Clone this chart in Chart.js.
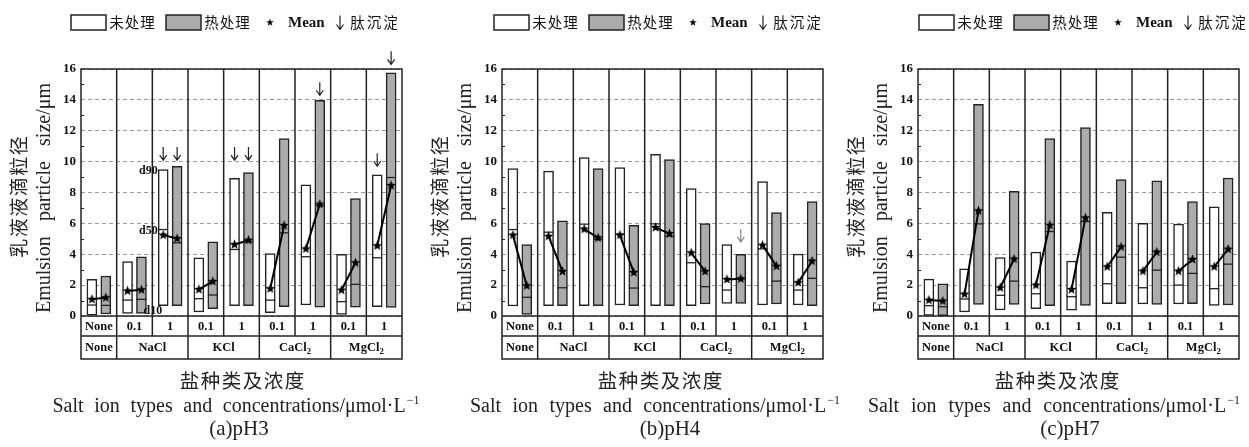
<!DOCTYPE html>
<html>
<head>
<meta charset="utf-8">
<script src="https://cdn.jsdelivr.net/npm/chart.js@4.4.1/dist/chart.umd.min.js"></script>
<style>
  html, body { margin: 0; padding: 0; background: #fff; width: 1249px; height: 447px; overflow: hidden; }
  .panel { position: absolute; top: 0; width: 420px; height: 447px; }
</style>
</head>
<body>
<div class="panel" style="left:0px"><canvas id="pH3" width="420" height="447"></canvas></div>
<div class="panel" style="left:421px"><canvas id="pH4" width="420" height="447"></canvas></div>
<div class="panel" style="left:837px"><canvas id="pH7" width="420" height="447"></canvas></div>
<script>
// ---- categories ----
const concentrations = ['None', '0.1', '1', '0.1', '1', '0.1', '1', '0.1', '1'];
const salts = ['None', 'NaCl', 'KCl', 'CaCl2', 'MgCl2'];
const saltSpans = [1, 2, 2, 2, 2];
const captions = ['(a)pH3', '(b)pH4', '(c)pH7'];

// ---- pH 3 (µm): d10 / d50 / d90 / mean, untreated and heat-treated ----
const pH3RawD10  = [0.06, 0.17, 0.67, 0.26, 0.67, 0.22, 0.71, 0.11, 0.60];
const pH3RawD50  = [0.71, 1.03, 5.60, 1.12, 4.31, 1.03, 3.84, 0.93, 3.77];
const pH3RawD90  = [2.37, 3.53, 9.48, 3.77, 8.92, 4.05, 8.49, 3.99, 9.14];
const pH3RawMean = [1.08, 1.62, 5.24, 1.72, 4.63, 1.77, 4.35, 1.68, 4.55];
const pH3HeatD10  = [0.13, 0.17, 0.67, 0.47, 0.67, 0.60, 0.58, 0.58, 0.56];
const pH3HeatD50  = [0.69, 1.08, 4.74, 1.36, 4.81, 5.39, 7.15, 2.05, 8.97];
const pH3HeatD90  = [2.59, 3.84, 9.70, 4.81, 9.29, 11.49, 13.97, 7.61, 15.75];
const pH3HeatMean = [1.19, 1.70, 5.02, 2.24, 4.91, 5.86, 7.24, 3.45, 8.45];
// peptide precipitation markers (arrow tip level, µm)
const pH3RawPrecip  = [null, null, 10.1, null, 10.1, null, null, null, 9.7];
const pH3HeatPrecip = [null, null, 10.1, null, 10.1, null, 14.3, null, 16.3];

// ---- pH 4 ----
const pH4RawD10  = [0.65, 0.67, 0.67, 0.71, 0.67, 0.67, 0.82, 0.71, 0.71];
const pH4RawD50  = [5.60, 5.43, 5.95, 5.30, 5.97, 3.45, 1.68, 4.35, 1.68];
const pH4RawD90  = [9.55, 9.38, 10.26, 9.61, 10.47, 8.25, 4.63, 8.71, 4.01];
const pH4RawMean = [5.24, 5.17, 5.63, 5.24, 5.73, 4.09, 2.37, 4.59, 2.16];
const pH4HeatD10  = [0.11, 0.67, 0.67, 0.67, 0.67, 0.78, 0.82, 0.78, 0.67];
const pH4HeatD50  = [1.21, 1.83, 4.96, 1.81, 5.17, 1.90, 2.40, 2.26, 2.44];
const pH4HeatD90  = [4.63, 6.16, 9.55, 5.88, 10.13, 5.99, 3.99, 6.70, 7.41];
const pH4HeatMean = [1.96, 2.89, 5.06, 2.82, 5.34, 2.89, 2.41, 3.23, 3.56];
const pH4RawPrecip  = [null, null, null, null, null, null, null, null, null];
const pH4HeatPrecip = [null, null, null, null, null, null, 4.8, null, null];

// ---- pH 7 ----
const pH7RawD10  = [0.04, 0.26, 0.39, 0.47, 0.37, 0.80, 0.78, 0.78, 0.69];
const pH7RawD50  = [0.67, 1.10, 1.34, 1.44, 1.25, 2.09, 1.83, 2.00, 1.77];
const pH7RawD90  = [2.39, 3.06, 3.79, 4.14, 3.56, 6.72, 6.01, 5.95, 7.07];
const pH7RawMean = [1.03, 1.42, 1.83, 2.00, 1.72, 3.19, 2.91, 2.91, 3.19];
const pH7HeatD10  = [0.02, 0.75, 0.75, 0.67, 0.69, 0.80, 0.75, 0.80, 0.71];
const pH7HeatD50  = [0.60, 5.97, 2.26, 5.47, 6.12, 3.81, 2.97, 2.76, 3.36];
const pH7HeatD90  = [2.09, 13.71, 8.08, 11.49, 12.20, 8.84, 8.75, 7.41, 8.94];
const pH7HeatMean = [0.97, 6.81, 3.69, 5.88, 6.36, 4.48, 4.14, 3.66, 4.33];
const pH7RawPrecip  = [null, null, null, null, null, null, null, null, null];
const pH7HeatPrecip = [null, null, null, null, null, null, null, null, null];

// y axis ticks
const yTicks = [0, 2, 4, 6, 8, 10, 12, 14, 16];

// ---- drawing settings ----
const SERIF = '"Liberation Serif", "Times New Roman", serif';
const CJK = '"Noto Sans CJK SC", sans-serif';
const INK = '#222';
const GREY_FILL = '#ababab';
const PAIR_OFFSET = 0.195;   // untreated / heated bars sit this far left / right of the slot centre
const BAR_PX = 10;
const legendLeft = [71, 73, 82];
const cnTitleX = [242, 239, 220];
const enTitleX = [236, 234, 217];
const captionX = [239, 249, 233];
const enTitleWidth = [367, 370, 372];
const arrowInk = ['#222', '#888', '#222'];

Chart.defaults.font.family = SERIF;

function makeStar(r) {
  const s = Math.ceil(r * 2 + 2);
  const c = document.createElement('canvas');
  c.width = c.height = s;
  const g = c.getContext('2d');
  g.fillStyle = '#000';
  g.beginPath();
  for (let k = 0; k < 10; k++) {
    const rr = k % 2 ? r * 0.42 : r;
    const a = -Math.PI / 2 + k * Math.PI / 5;
    g.lineTo(s / 2 + rr * Math.cos(a), s / 2 + rr * Math.sin(a));
  }
  g.closePath();
  g.fill();
  return c;
}
const STAR = makeStar(5.2);

function fillStar(ctx, x, y, r) {
  ctx.beginPath();
  for (let k = 0; k < 10; k++) {
    const rr = k % 2 ? r * 0.42 : r;
    const a = -Math.PI / 2 + k * Math.PI / 5;
    ctx.lineTo(x + rr * Math.cos(a), y + rr * Math.sin(a));
  }
  ctx.closePath();
  ctx.fill();
}

function drawArrow(ctx, x, tipY, len, color) {
  ctx.save();
  ctx.strokeStyle = color;
  ctx.lineWidth = 1.2;
  ctx.beginPath();
  ctx.moveTo(x, tipY - len);
  ctx.lineTo(x, tipY);
  ctx.moveTo(x - 3.5, tipY - 5);
  ctx.lineTo(x, tipY);
  ctx.lineTo(x + 3.5, tipY - 5);
  ctx.stroke();
  ctx.restore();
}

function drawBold(ctx, text, cx, cy, size) {
  ctx.font = `bold ${size}px ${SERIF}`;
  ctx.textAlign = 'center';
  ctx.textBaseline = 'middle';
  ctx.fillText(text, cx, cy);
}

// salt formula with trailing digits set as subscript (CaCl2 -> CaCl₂)
function drawChem(ctx, text, cx, cy, size) {
  const m = text.match(/^(.*?)(\d*)$/);
  const main = m[1], sub = m[2];
  ctx.font = `bold ${size}px ${SERIF}`;
  const wMain = ctx.measureText(main).width;
  ctx.font = `bold ${size * 0.7}px ${SERIF}`;
  const wSub = sub ? ctx.measureText(sub).width : 0;
  const x = cx - (wMain + wSub) / 2;
  ctx.textAlign = 'left';
  ctx.textBaseline = 'middle';
  ctx.font = `bold ${size}px ${SERIF}`;
  ctx.fillText(main, x, cy);
  if (sub) {
    ctx.font = `bold ${size * 0.7}px ${SERIF}`;
    ctx.fillText(sub, x + wMain, cy + size * 0.3);
  }
}

// words spread evenly over a given width, with optional superscript at the end
function drawWords(ctx, words, sup, cx, cy, total, size) {
  ctx.font = `${size}px ${SERIF}`;
  const ws = words.map(w => ctx.measureText(w).width);
  let supW = 0;
  if (sup) {
    ctx.font = `${size * 0.6}px ${SERIF}`;
    supW = ctx.measureText(sup).width + 1;
  }
  const sum = ws.reduce((a, b) => a + b, 0) + supW;
  const gap = (total - sum) / (words.length - 1);
  let x = cx - total / 2;
  ctx.textAlign = 'left';
  ctx.textBaseline = 'middle';
  ctx.font = `${size}px ${SERIF}`;
  words.forEach((w, i) => {
    ctx.fillText(w, x, cy);
    x += ws[i] + (i < words.length - 1 ? gap : 0);
  });
  if (sup) {
    ctx.font = `${size * 0.6}px ${SERIF}`;
    ctx.fillText(sup, x + 1, cy - size * 0.33);
  }
}

function drawCJK(ctx, text, cx, cy, size, pitch) {
  ctx.font = `${size}px ${CJK}`;
  ctx.textAlign = 'center';
  ctx.textBaseline = 'middle';
  const chars = [...text];
  const start = cx - pitch * (chars.length - 1) / 2;
  chars.forEach((ch, i) => ctx.fillText(ch, start + i * pitch, cy));
}

// left edge of slot k (k = number of slots to the left)
function boundary(chart, k) {
  return chart.scales.x.getPixelForValue(k - 0.5);
}

function buildPanel(k, id, d) {
  const slots = concentrations.map((c, i) => i);
  const meanPath = [];
  slots.forEach(i => {
    meanPath.push({ x: i - PAIR_OFFSET, y: d.rawMean[i] },
                  { x: i + PAIR_OFFSET, y: d.heatMean[i] },
                  { x: i + 0.5, y: null });
  });
  const d50 = [d.rawD50, d.heatD50];
  const d10 = [d.rawD10, d.heatD10];
  const d90 = [d.rawD90, d.heatD90];
  const precip = [d.rawPrecip, d.heatPrecip];

  const decor = {
    id: 'decor' + k,
    beforeDatasetsDraw(chart) {
      const { ctx, chartArea: a } = chart;
      const ys = chart.scales.y;
      ctx.save();
      // minor ticks on the left frame
      ctx.strokeStyle = INK;
      ctx.lineWidth = 1;
      for (let v = 1; v < 16; v += 2) {
        const y = Math.round(ys.getPixelForValue(v)) + 0.5;
        ctx.beginPath(); ctx.moveTo(a.left, y); ctx.lineTo(a.left + 3, y); ctx.stroke();
      }
      ctx.restore();
    },
    afterDatasetDraw(chart, args) {
      if (args.meta.type !== 'bar') return;
      const { ctx } = chart;
      const ys = chart.scales.y;
      const vals = d50[args.index];
      ctx.save();
      ctx.strokeStyle = INK;
      ctx.lineWidth = 1.3;
      args.meta.data.forEach((el, i) => {
        const y = ys.getPixelForValue(vals[i]);
        ctx.beginPath();
        ctx.moveTo(el.x - el.width / 2, y);
        ctx.lineTo(el.x + el.width / 2, y);
        ctx.stroke();
      });
      ctx.restore();
    },
    afterDraw(chart) {
      const { ctx, chartArea: a } = chart;
      const xs = chart.scales.x, ys = chart.scales.y;
      const n = concentrations.length;
      const row1 = a.bottom + 20, row2 = a.bottom + 43;
      ctx.save();
      ctx.strokeStyle = INK;
      ctx.fillStyle = '#111';
      ctx.lineWidth = 1.5;

      // plot frame and table rules
      ctx.strokeRect(a.left, a.top, a.right - a.left, row2 - a.top);
      [a.bottom, row1].forEach(y => {
        ctx.beginPath(); ctx.moveTo(a.left, y); ctx.lineTo(a.right, y); ctx.stroke();
      });
      const groupEdges = [];
      saltSpans.reduce((acc, s) => { groupEdges.push(acc + s); return acc + s; }, 0);
      for (let j = 1; j < n; j++) {
        const x = boundary(chart, j);
        const full = groupEdges.includes(j);
        ctx.beginPath(); ctx.moveTo(x, a.top); ctx.lineTo(x, full ? row2 : row1); ctx.stroke();
      }

      // table labels
      concentrations.forEach((c, i) => {
        drawBold(ctx, c, xs.getPixelForValue(i), (a.bottom + row1) / 2 + 0.5, 12.5);
      });
      let start = 0;
      salts.forEach((s, gi) => {
        const x0 = boundary(chart, start), x1 = boundary(chart, start + saltSpans[gi]);
        drawChem(ctx, s, (x0 + x1) / 2, (row1 + row2) / 2, 12.5);
        start += saltSpans[gi];
      });

      // peptide precipitation arrows
      [0, 1].forEach(di => {
        const meta = chart.getDatasetMeta(di);
        precip[di].forEach((v, i) => {
          if (v === null) return;
          drawArrow(ctx, meta.data[i].x, ys.getPixelForValue(v), 13, arrowInk[k]);
        });
      });

      // percentile annotations on the untreated NaCl 1 bar (pH 3 panel)
      if (k === 0) {
        const bar = chart.getDatasetMeta(0).data[2];
        const left = bar.x - bar.width / 2;
        ctx.textBaseline = 'middle';
        ctx.textAlign = 'right';
        ctx.font = `bold 12px ${SERIF}`;
        ctx.fillText('d90', left - 0.5, ys.getPixelForValue(d90[0][2]) + 1);
        ctx.fillText('d50', left - 0.5, ys.getPixelForValue(d50[0][2]) + 1);
        ctx.fillText('d10', left + 4, ys.getPixelForValue(d10[0][2]) + 5);
      }

      // legend
      const lx = legendLeft[k], ly = 22.5;
      ctx.lineWidth = 1.5;
      ctx.fillStyle = '#fff';
      ctx.fillRect(lx, ly - 7.5, 35, 15); ctx.strokeRect(lx, ly - 7.5, 35, 15);
      ctx.fillStyle = GREY_FILL;
      ctx.fillRect(lx + 95, ly - 7.5, 35, 15); ctx.strokeRect(lx + 95, ly - 7.5, 35, 15);
      ctx.fillStyle = '#111';
      drawCJK(ctx, '未处理', lx + 39 + 22, ly, 14.5, 15.5);
      drawCJK(ctx, '热处理', lx + 134 + 22, ly, 14.5, 15.5);
      fillStar(ctx, lx + 199, ly, 4);
      ctx.font = `bold 15px ${SERIF}`;
      ctx.textAlign = 'left';
      ctx.textBaseline = 'middle';
      ctx.fillText('Mean', lx + 217, ly + 1);
      drawArrow(ctx, lx + 269, ly + 7, 14, '#222');
      drawCJK(ctx, '肽沉淀', lx + 279 + 24, ly, 14.5, 16.5);

      // axis titles
      ctx.fillStyle = '#222';
      ctx.save();
      ctx.translate(19, 197);
      ctx.rotate(-Math.PI / 2);
      drawCJK(ctx, '乳液液滴粒径', 0, 0, 19, 20.5);
      ctx.restore();
      ctx.save();
      ctx.translate(45, 198);
      ctx.rotate(-Math.PI / 2);
      drawWords(ctx, ['Emulsion', 'particle', 'size/μm'], null, 0, 0, 230, 20);
      ctx.restore();

      drawCJK(ctx, '盐种类及浓度', cnTitleX[k], 381, 19.5, 21);
      drawWords(ctx, ['Salt', 'ion', 'types', 'and', 'concentrations/μmol·L'], '−1',
                enTitleX[k], 407, enTitleWidth[k], 20);
      ctx.font = `21px ${SERIF}`;
      ctx.textAlign = 'center';
      ctx.fillText(captions[k], captionX[k], 429);
      ctx.restore();
    }
  };

  const barStyle = {
    borderColor: INK,
    borderWidth: 1.5,
    borderSkipped: false,
    grouped: false,
    categoryPercentage: 1,
    barPercentage: 1,
    maxBarThickness: BAR_PX
  };

  return new Chart(document.getElementById(id), {
    type: 'bar',
    data: {
      datasets: [
        Object.assign({
          label: '未处理',
          data: slots.map(i => ({ x: i - PAIR_OFFSET, y: [d.rawD10[i], d.rawD90[i]] })),
          backgroundColor: '#ffffff',
          order: 1
        }, barStyle),
        Object.assign({
          label: '热处理',
          data: slots.map(i => ({ x: i + PAIR_OFFSET, y: [d.heatD10[i], d.heatD90[i]] })),
          backgroundColor: GREY_FILL,
          order: 2
        }, barStyle),
        {
          type: 'line',
          label: 'Mean',
          data: meanPath,
          borderColor: '#000',
          borderWidth: 2,
          pointStyle: STAR,
          pointRadius: 5,
          spanGaps: false,
          fill: false,
          order: 0
        }
      ]
    },
    options: {
      responsive: false,
      animation: false,
      events: [],
      layout: { padding: { left: 0, right: 18, top: 69, bottom: 131 } },
      plugins: { legend: { display: false }, tooltip: { enabled: false } },
      scales: {
        x: {
          type: 'linear', display: false, offset: false,
          min: -0.5, max: concentrations.length - 0.5,
          ticks: { stepSize: 1 }
        },
        y: {
          min: yTicks[0],
          max: yTicks[yTicks.length - 1],
          afterFit(scale) { scale.width = 81; },
          afterBuildTicks(scale) { scale.ticks = yTicks.map(v => ({ value: v })); },
          ticks: { padding: 5, color: '#111', font: { family: SERIF, weight: 'bold', size: 13 } },
          grid: { color: '#9a9a9a', lineWidth: 1, drawTicks: false },
          border: { display: false, dash: [4, 3] }
        }
      }
    },
    plugins: [decor]
  });
}

buildPanel(0, 'pH3', {
  rawD10: pH3RawD10, rawD50: pH3RawD50, rawD90: pH3RawD90, rawMean: pH3RawMean,
  heatD10: pH3HeatD10, heatD50: pH3HeatD50, heatD90: pH3HeatD90, heatMean: pH3HeatMean,
  rawPrecip: pH3RawPrecip, heatPrecip: pH3HeatPrecip
});
buildPanel(1, 'pH4', {
  rawD10: pH4RawD10, rawD50: pH4RawD50, rawD90: pH4RawD90, rawMean: pH4RawMean,
  heatD10: pH4HeatD10, heatD50: pH4HeatD50, heatD90: pH4HeatD90, heatMean: pH4HeatMean,
  rawPrecip: pH4RawPrecip, heatPrecip: pH4HeatPrecip
});
buildPanel(2, 'pH7', {
  rawD10: pH7RawD10, rawD50: pH7RawD50, rawD90: pH7RawD90, rawMean: pH7RawMean,
  heatD10: pH7HeatD10, heatD50: pH7HeatD50, heatD90: pH7HeatD90, heatMean: pH7HeatMean,
  rawPrecip: pH7RawPrecip, heatPrecip: pH7HeatPrecip
});
</script>
</body>
</html>
